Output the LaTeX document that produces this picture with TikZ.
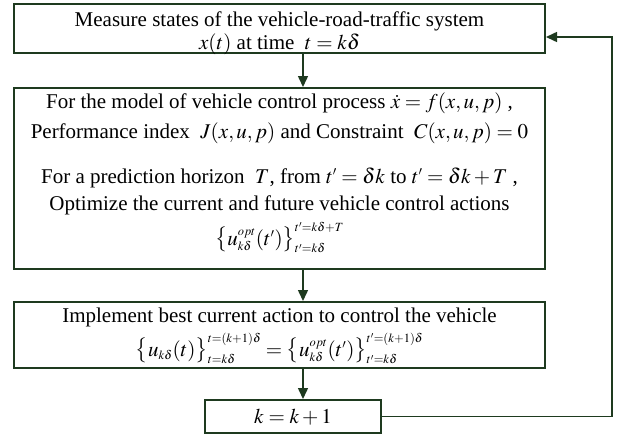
\documentclass[tikz,border=0pt]{standalone}
\usepackage{mathptmx}
\usepackage[no-math]{fontspec}
\setmainfont{Liberation Serif}
\newfontfamily\tnr{Liberation Serif}
\DeclareMathSizes{21}{21}{12.5}{9}
\usetikzlibrary{arrows.meta}
\definecolor{lc}{HTML}{1E3A1F}
\begin{document}
\begin{tikzpicture}[x=1pt,y=1pt,
  box/.style={draw=lc,line width=2pt,minimum width=531pt,inner sep=0pt},
  txt/.style={anchor=base,inner sep=0pt,font=\tnr\fontsize{21}{25}\selectfont},
  conn/.style={draw=lc,line width=1.5pt,-{Triangle[length=11pt,width=10pt]}}]
\useasboundingbox (0,0) rectangle (622,-437);
\node[box,minimum height=49pt] (b1) at (279.5,-28.5) {};
\node[box,minimum height=181pt] (b2) at (279.5,-178.5) {};
\node[box,minimum height=66pt] (b3) at (279.5,-335) {};
\node[box,minimum width=176pt,minimum height=33pt] (b4) at (293,-416.5) {};
\node[txt] (t11) at (279.5,-26) {Measure states of the vehicle-road-traffic system};
\node[txt] (t12) at (279.5,-49) {$x(t)$ at time \ $t=k\delta$};
\node[txt] (t21) at (279.5,-108) {For the model of vehicle control process $\dot x = f(x,u,p)$ ,};
\node[txt] (t22) at (279.5,-138) {Performance index \ $J(x,u,p)$ and Constraint \ $C(x,u,p)=0$};
\node[txt] (t23) at (279.5,-183) {For a prediction horizon \ $T$, from $t'=\delta k$ to $t'=\delta k+T$ ,};
\node[txt] (t24) at (279.5,-210) {Optimize the current and future vehicle control actions};
\node[txt] (t25) at (279.5,-245) {$\bigl\{u^{opt}_{k\delta}(t')\bigr\}_{t'=k\delta}^{t'=k\delta+T}$};
\node[txt] (t31) at (279.5,-322) {Implement best current action to control the vehicle};
\node[txt] (t32) at (279.5,-356) {$\bigl\{u_{k\delta}(t)\bigr\}_{t=k\delta}^{t=(k+1)\delta} = \bigl\{u^{opt}_{k\delta}(t')\bigr\}_{t'=k\delta}^{t'=(k+1)\delta}$};
\node[txt] (t41) at (293,-423) {$k=k+1$};
\coordinate (c1) at (612,-416.5);
\coordinate (c2) at (612,-37);
\draw[conn] (b1.south -| 303,0) -- (b2.north -| 303,0);
\draw[conn] (b2.south -| 303,0) -- (b3.north -| 303,0);
\draw[conn] (b3.south -| 303,0) -- (b4.north -| 303,0);
\draw[conn] (b4.east) -- (c1) -- (c2) -- (b1.east |- c2);
\end{tikzpicture}
\end{document}
